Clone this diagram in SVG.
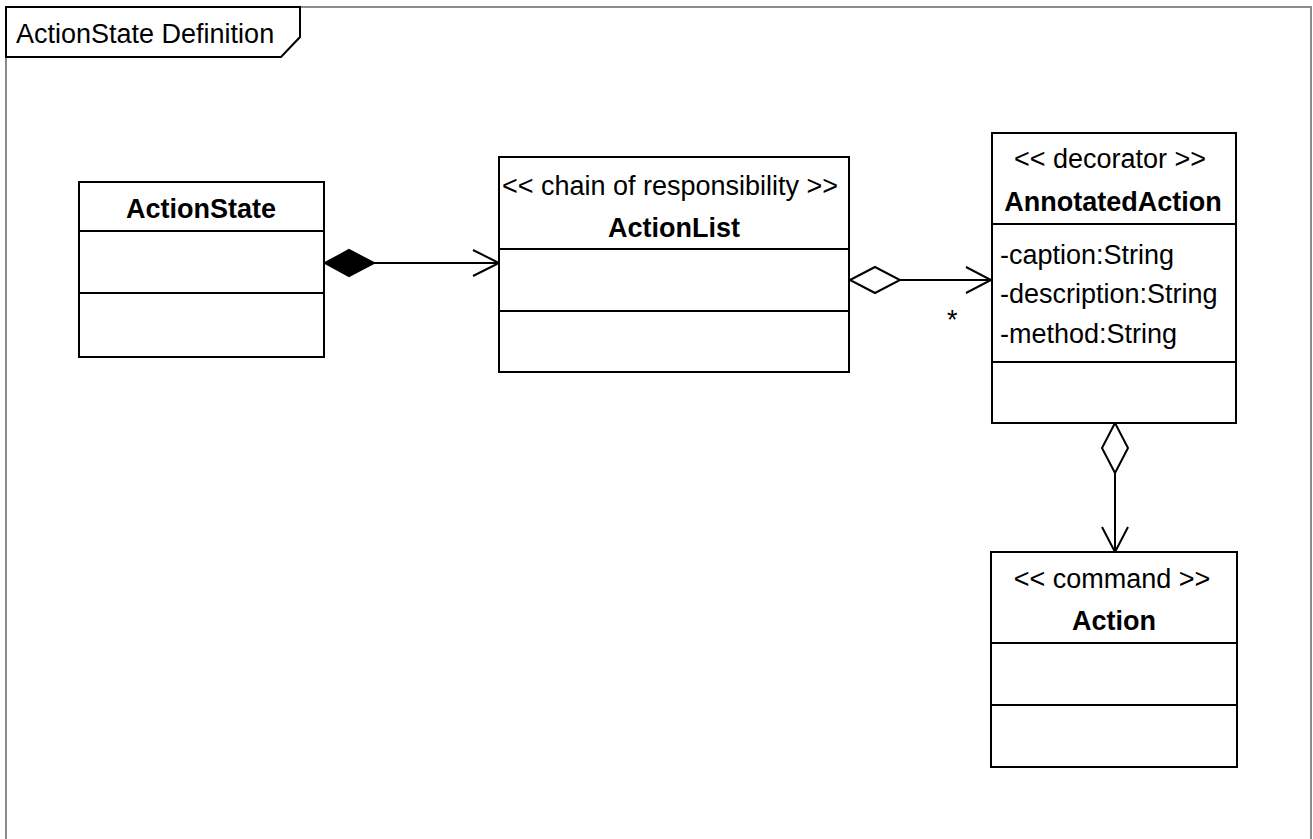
<svg xmlns="http://www.w3.org/2000/svg" width="1313" height="839" viewBox="0 0 1313 839">
  <style>
    .frame { fill: none; stroke: #8c8c8c; stroke-width: 2; }
    .box { fill: #ffffff; stroke: #000000; stroke-width: 2; }
    .div { stroke: #000000; stroke-width: 2; }
    .edge { fill: none; stroke: #000000; stroke-width: 2; }
    text { font-family: "Liberation Sans", Arial, sans-serif; font-size: 27px; fill: #000000; }
    .name { font-weight: bold; text-anchor: middle; }
    .stereo { text-anchor: middle; }
  </style>
  <rect width="1313" height="839" fill="#ffffff"/>

  <!-- diagram frame and title tab -->
  <g id="frame">
    <path class="frame" d="M6,845 L6,7 L1311,7 L1311,845"/>
    <path class="box" d="M6,7 L300,7 L300,37 L281,57 L6,57 Z"/>
    <text x="16" y="43">ActionState Definition</text>
  </g>

  <!-- connectors -->
  <g id="connectors">
    <!-- composition ActionState -> ActionList -->
    <path d="M325,263 L349,250 L374,263 L349,276 Z" fill="#000000" stroke="#000000" stroke-width="2"/>
    <line class="edge" x1="374" y1="263" x2="499" y2="263"/>
    <polyline class="edge" points="473,250 499,263 473,276"/>
    <!-- aggregation ActionList -> AnnotatedAction -->
    <path d="M850,280 L875,267 L900,280 L875,293 Z" fill="#ffffff" stroke="#000000" stroke-width="2"/>
    <line class="edge" x1="900" y1="280" x2="991" y2="280"/>
    <polyline class="edge" points="966,267 991,280 966,293"/>
    <text x="947" y="329" font-size="22">*</text>
    <!-- aggregation AnnotatedAction -> Action -->
    <path d="M1115,423 L1128,448 L1115,473 L1102,448 Z" fill="#ffffff" stroke="#000000" stroke-width="2"/>
    <line class="edge" x1="1115" y1="473" x2="1115" y2="552"/>
    <polyline class="edge" points="1102,527 1115,552 1128,527"/>
  </g>

  <g id="ActionState">
    <rect class="box" x="79" y="182" width="245" height="175"/>
    <line class="div" x1="79" y1="231" x2="324" y2="231"/>
    <line class="div" x1="79" y1="293" x2="324" y2="293"/>
    <text class="name" x="201" y="218">ActionState</text>
  </g>

  <g id="ActionList">
    <rect class="box" x="499" y="157" width="350" height="215"/>
    <line class="div" x1="499" y1="249" x2="849" y2="249"/>
    <line class="div" x1="499" y1="311" x2="849" y2="311"/>
    <text class="stereo" x="670" y="195">&lt;&lt; chain of responsibility &gt;&gt;</text>
    <text class="name" x="674" y="237">ActionList</text>
  </g>

  <g id="AnnotatedAction">
    <rect class="box" x="992" y="133" width="244" height="290"/>
    <line class="div" x1="992" y1="224" x2="1236" y2="224"/>
    <line class="div" x1="992" y1="362" x2="1236" y2="362"/>
    <text class="stereo" x="1110" y="168">&lt;&lt; decorator &gt;&gt;</text>
    <text class="name" x="1113" y="211">AnnotatedAction</text>
    <text x="1000" y="264">-caption:String</text>
    <text x="1000" y="303">-description:String</text>
    <text x="1000" y="343">-method:String</text>
  </g>

  <g id="Action">
    <rect class="box" x="991" y="552" width="246" height="215"/>
    <line class="div" x1="991" y1="643" x2="1237" y2="643"/>
    <line class="div" x1="991" y1="705" x2="1237" y2="705"/>
    <text class="stereo" x="1112" y="588">&lt;&lt; command &gt;&gt;</text>
    <text class="name" x="1114" y="630">Action</text>
  </g>
</svg>
